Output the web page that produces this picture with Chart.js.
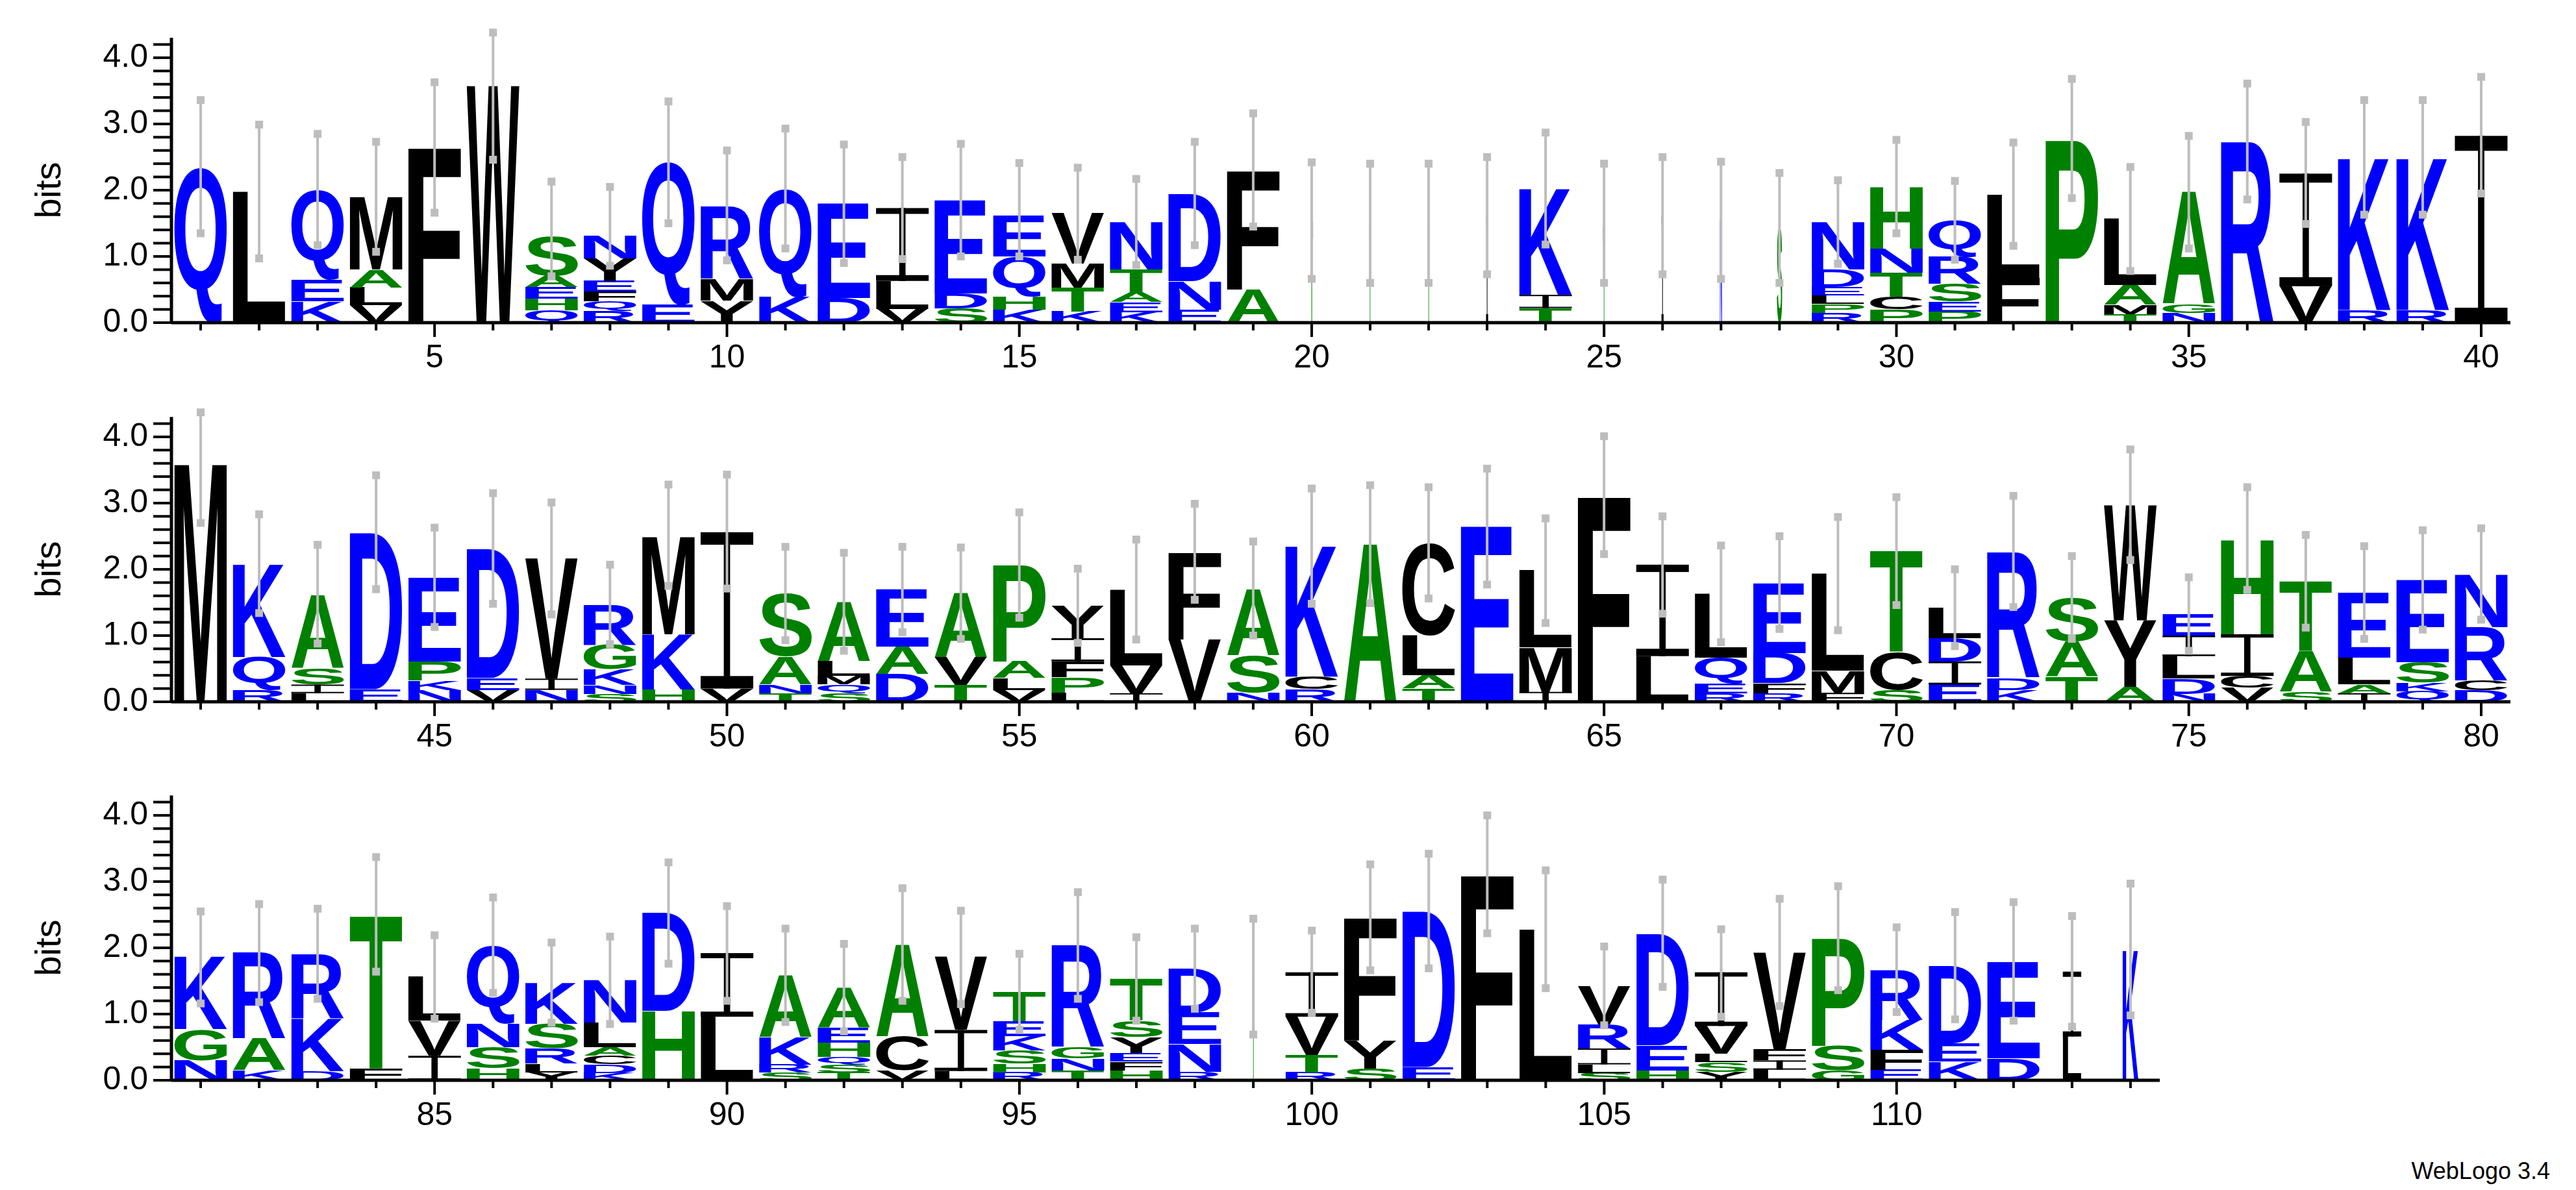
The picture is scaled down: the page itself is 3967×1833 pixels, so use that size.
<!DOCTYPE html>
<html>
<head>
<meta charset="utf-8">
<script src="https://cdn.jsdelivr.net/npm/chart.js@4"></script>
<style>
  body { margin: 0; background: #fff; width: 3967px; height: 1833px; overflow: hidden; position: relative; }
  .row { position: absolute; left: 0; width: 3967px; height: 600px; }
  #credit { position: absolute; right: 40px; bottom: 8px; font: 36px "Liberation Sans", Arial, sans-serif; }
</style>
</head>
<body>
<div class="row" style="top:0"><canvas id="row1"></canvas></div>
<div class="row" style="top:584px"><canvas id="row2"></canvas></div>
<div class="row" style="top:1167px"><canvas id="row3"></canvas></div>
<div id="credit">WebLogo 3.4</div>
<script>
// letters per position, top to bottom
const stackLetters = [
  'Q','L','QEK','MALV','F','W','SAEHQ','NYEFQR','QE','RMY',
  'QK','ED','ILV','EDS','EQHK','VMTK','NTAEK','DNE','FA','T',
  'T','T','I','KIT','T','I','N','S','NDELPR','HNTCP',
  'QRSEP','LF','P','LAMT','AGN','R','IV','KR','KR','I',
  'M','KQR','ASIL','DE','EPKN','DEV','VIN','RGKNS','MKH','IV',
  'SANT','ALMQS','EAD','AVT','PALV','YIFPL','LVI','FV','ASN','KCR',
  'A','CLAT','E','LMI','F','IL','LQER','EDFR','LMF','TCS',
  'LDIE','RDK','SAT','WYA','EILDN','HICV','TAS','ELAI','ESKQ','NRCD',
  'KGN','RAK','RKD','TF','LVI','QNSH','KSRLY','NLACDK','DH','IL',
  'AKRS','AEHQST','ACV','VIL','TEKSHR','RGNT','TSYEFH','DENR','T','IVTR',
  'FYS','DE','F','L','VRILS','DEH','IVLSY','VFIL','PSG','RKFE',
  'DEK','ED','IL','K'
];
// bits of each letter, same order
const stackBits = [
  [2.35],[1.98],[1.35,.33,.32],[1.1,.27,.27,.26],[2.65],[3.58],[.6,.17,.18,.17,.19],[.34,.34,.16,.15,.15,.17],[2.16,.27],[1.1,.33,.33],
  [1.64,.39],[1.43,.37],[1.1,.42,.21],[1.41,.22,.22],[.62,.6,.2,.2],[.76,.36,.36,.17],[.72,.34,.15,.15,.16],[1.32,.43,.2],[1.8,.5],[1.53],
  [1.5],[1.5],[1.61],[1.6,.2,.22],[1.48],[1.61],[1.55],[1.43],[.72,.26,.13,.13,.13,.15],[.94,.37,.36,.19,.2],
  [.55,.41,.27,.15,.17],[1.26,.68],[2.77],[1.0,.3,.14,.13],[1.7,.13,.15],[2.73],[1.7,.55],[2.3,.19],[2.3,.19],[2.82],
  [3.61],[1.4,.5,.18],[1.1,.25,.13,.13],[2.36,.19],[1.27,.29,.14,.18],[1.95,.18,.18],[1.82,.17,.18],[.6,.37,.24,.13,.12],[1.48,.83,.19],[2.36,.2],
  [.96,.42,.13,.13],[.9,.22,.13,.13,.13],[.86,.41,.42],[.97,.42,.25],[1.47,.25,.18,.18],[.49,.35,.24,.23,.14],[1.14,.42,.13],[1.32,.94],[1.0,.56,.14],[1.98,.19,.19],
  [2.38],[1.4,.6,.2,.2],[2.65],[1.17,.67,.15],[3.11],[1.38,.69],[.96,.39,.15,.13],[1.06,.46,.15,.13],[1.47,.33,.14],[1.53,.57,.18],
  [.46,.35,.35,.26],[1.9,.18,.18],[.66,.53,.38],[1.74,1.0,.23],[.33,.31,.34,.23,.12],[1.43,.63,.18,.21],[1.05,.62,.15],[.98,.41,.13,.13],[1.24,.31,.13,.16],[.8,.81,.15,.17],
  [1.1,.47,.3],[1.3,.48,.15],[.97,.79,.14],[2.31,.18],[.66,.53,.37],[1.18,.35,.32,.18],[.62,.37,.23,.13,.12],[.64,.37,.13,.13,.13,.11],[1.48,1.05],[.96,.96],
  [.94,.41,.12,.12],[.6,.22,.22,.11,.12,.12],[1.39,.51,.15],[1.1,.62,.14],[.44,.22,.22,.2,.13,.12],[1.54,.17,.18,.15],[.63,.25,.24,.13,.13,.15],[.66,.47,.42,.13],[1.56],[.67,.58,.26,.12],
  [1.86,.42,.18],[2.35,.2],[3.11],[2.28],[.58,.36,.24,.13,.11],[1.68,.38,.15],[.81,.42,.13,.14,.13],[1.47,.16,.14,.16],[1.63,.37,.15],[.76,.45,.3,.16],
  [1.17,.28,.28],[1.45,.33],[.98,.66],[1.97]
];
const errHigh = [
  3.36,2.99,2.85,2.73,3.63,4.38,2.13,2.05,3.34,2.6,2.93,2.69,2.5,2.7,2.41,2.34,2.17,2.73,3.16,2.42,
  2.4,2.4,2.5,2.87,2.4,2.5,2.43,2.26,2.15,2.76,2.14,2.72,3.68,2.35,2.82,3.61,3.03,3.36,3.36,3.71,
  4.37,2.83,2.37,3.42,2.63,3.15,3.01,2.07,3.28,3.43,2.34,2.25,2.34,2.33,2.86,2.01,2.45,2.99,2.42,3.22,
  3.27,3.24,3.52,2.77,4.01,2.8,2.36,2.5,2.79,3.09,2.0,3.11,2.2,3.81,1.88,3.24,2.52,2.35,2.59,2.62,
  2.55,2.66,2.59,3.37,2.19,2.76,2.08,2.17,3.29,2.63,2.29,2.06,2.9,2.56,1.91,2.84,2.16,2.29,2.44,2.26,
  3.26,3.42,4.0,3.17,2.02,3.03,2.28,2.74,2.93,2.31,2.54,2.69,2.48,2.97
];
const errLow = [
  1.35,.97,1.17,1.07,1.66,2.46,.7,.86,1.5,.94,1.12,.9,.96,1.0,1.0,.95,.87,1.17,1.45,.66,
  .6,.6,.73,1.18,.6,.73,.66,.6,.89,1.35,.95,1.16,1.88,.78,1.12,1.86,1.49,1.63,1.63,1.95,
  2.7,1.34,.88,1.7,1.13,1.48,1.32,.87,1.75,1.71,.93,.77,1.05,.95,1.27,.89,.94,1.54,1.0,1.48,
  1.49,1.56,1.77,1.19,2.23,1.33,.9,1.1,1.08,1.46,.84,1.43,.95,2.14,.77,1.69,1.12,.95,1.09,1.24,
  1.16,1.18,1.23,1.64,.93,1.32,.87,.85,1.76,1.2,.88,.74,1.2,1.15,.76,1.23,.9,1.08,.69,1.02,
  1.66,1.69,2.22,1.39,.83,1.41,.96,1.12,1.36,1.03,.92,.9,.81,.98
];
// columns drawn narrow in the reference (position: width fraction)
const narrowColumns = { 20: .05, 21: .04, 22: .04, 23: .04, 25: .04, 26: .04, 27: .04, 28: .1, 99: .04, 113: .35, 114: .3 };
const yTicks = [0, 1, 2, 3, 4];
const rowRanges = [[1, 40], [41, 80], [81, 114]];

const BLUE = '#0000ff', GREEN = '#008000', BLACK = '#000000';
const letterColor = {
  Q: BLUE, E: BLUE, K: BLUE, N: BLUE, R: BLUE, D: BLUE,
  S: GREEN, A: GREEN, H: GREEN, T: GREEN, G: GREEN, P: GREEN,
  L: BLACK, M: BLACK, F: BLACK, W: BLACK, Y: BLACK, I: BLACK, V: BLACK, C: BLACK
};
const FONT = '"Liberation Sans", Arial, sans-serif';

// stretch one glyph into a box
function drawGlyph(ctx, ch, x0, y0, w, h, color) {
  ctx.save();
  ctx.fillStyle = color;
  if (ch === 'I') {
    // serif I: thin stem, wide caps
    const cap = Math.max(h * 0.08, 2), stem = Math.max(w * 0.12, 1);
    ctx.fillRect(x0, y0, w, cap);
    ctx.fillRect(x0, y0 + h - cap, w, cap);
    ctx.fillRect(x0 + (w - stem) / 2, y0, stem, h);
    ctx.restore();
    return;
  }
  ctx.font = 'bold 200px ' + FONT;
  const m = ctx.measureText(ch);
  const gw = m.actualBoundingBoxLeft + m.actualBoundingBoxRight;
  const gh = m.actualBoundingBoxAscent + m.actualBoundingBoxDescent;
  ctx.translate(x0, y0);
  ctx.scale(w / gw, h / gh);
  ctx.textBaseline = 'alphabetic';
  ctx.fillText(ch, m.actualBoundingBoxLeft, m.actualBoundingBoxAscent);
  ctx.restore();
}

const logoPlugin = {
  id: 'logo',
  afterDatasetsDraw(chart) {
    const ctx = chart.ctx, xs = chart.scales.x, ys = chart.scales.y;
    const [first, last] = chart.options.plugins.logo.range;
    const step = xs.getPixelForValue(first + 1) - xs.getPixelForValue(first);
    for (let p = first; p <= last; p++) {
      const i = p - 1;
      const cx = xs.getPixelForValue(p);
      const w = step * 0.9 * (narrowColumns[p] || 1);
      const letters = stackLetters[i], bits = stackBits[i];
      let base = 0;
      for (let k = letters.length - 1; k >= 0; k--) {
        const top = base + bits[k];
        const yTop = ys.getPixelForValue(top), yBot = ys.getPixelForValue(base);
        drawGlyph(ctx, letters[k], cx - w / 2, yTop, w, yBot - yTop, letterColor[letters[k]]);
        base = top;
      }
      // error bar
      const yh = ys.getPixelForValue(errHigh[i]), yl = ys.getPixelForValue(errLow[i]);
      ctx.strokeStyle = '#bdbdbd'; ctx.fillStyle = '#bdbdbd'; ctx.lineWidth = 4;
      ctx.beginPath(); ctx.moveTo(cx, yh); ctx.lineTo(cx, yl); ctx.stroke();
      ctx.fillRect(cx - 6, yh - 6, 12, 12);
      ctx.fillRect(cx - 6, yl - 6, 12, 12);
    }
    // axes
    const a = chart.chartArea;
    const y0 = ys.getPixelForValue(0);
    ctx.strokeStyle = '#000'; ctx.fillStyle = '#000';
    ctx.lineWidth = 5;
    ctx.beginPath(); ctx.moveTo(a.left, y0); ctx.lineTo(a.right, y0); ctx.stroke();
    ctx.beginPath(); ctx.moveTo(a.left, y0); ctx.lineTo(a.left, ys.getPixelForValue(4.3)); ctx.stroke();
    ctx.lineWidth = 4;
    ctx.font = '50px ' + FONT;
    ctx.textAlign = 'center'; ctx.textBaseline = 'top';
    for (let p = first; p <= last; p++) {
      const x = xs.getPixelForValue(p);
      const major = p % 5 === 0;
      ctx.beginPath(); ctx.moveTo(x, y0); ctx.lineTo(x, y0 + (major ? 22 : 12)); ctx.stroke();
      if (major) ctx.fillText(String(p), x, y0 + 30);
    }
    for (let v = 0; v <= 4.21; v += 0.2) {
      const y = ys.getPixelForValue(v);
      ctx.beginPath(); ctx.moveTo(a.left, y); ctx.lineTo(a.left - 28, y); ctx.stroke();
    }
    ctx.textAlign = 'right'; ctx.textBaseline = 'middle';
    yTicks.forEach(v => ctx.fillText(v.toFixed(1), a.left - 36, ys.getPixelForValue(v)));
    ctx.save();
    ctx.translate(78, ys.getPixelForValue(2));
    ctx.rotate(-Math.PI / 2);
    ctx.textAlign = 'center'; ctx.font = '56px ' + FONT;
    ctx.fillText('bits', 0, 0);
    ctx.restore();
  }
};

function makeRow(id, range, rightPad) {
  const [first, last] = range;
  const totals = [];
  for (let p = first; p <= last; p++) {
    totals.push({ x: p, y: stackBits[p - 1].reduce((s, b) => s + b, 0) });
  }
  new Chart(document.getElementById(id), {
    type: 'bar',
    data: { datasets: [{ label: 'bits', data: totals, backgroundColor: 'rgba(0,0,0,0)', barPercentage: 0.9, categoryPercentage: 1 }] },
    options: {
      responsive: false, animation: false, devicePixelRatio: 1,
      layout: { padding: { left: 264, right: rightPad, top: 43, bottom: 103 } },
      scales: {
        x: { type: 'linear', display: false, offset: false, min: first - 0.5, max: last + 0.5 },
        y: { display: false, min: 0, max: 4.45 }
      },
      plugins: { legend: { display: false }, tooltip: { enabled: false }, logo: { range: range } }
    },
    plugins: [logoPlugin]
  });
}

['row1', 'row2', 'row3'].forEach((id, r) => {
  const c = document.getElementById(id);
  c.width = 3967; c.height = 600;
  makeRow(id, rowRanges[r], r === 2 ? 641 : 101);
});
</script>
</body>
</html>
